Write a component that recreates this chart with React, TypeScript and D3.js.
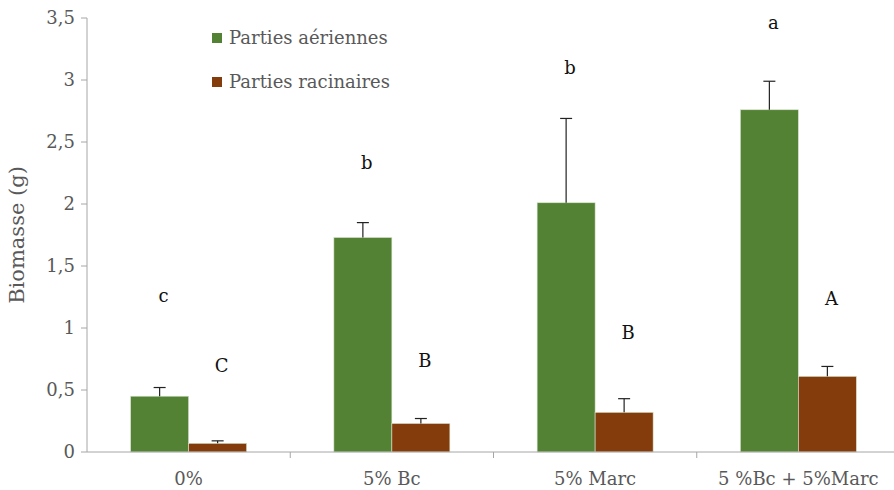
import React, { useEffect, useRef } from "react";
import * as d3 from "d3";

const categories = ["0%", "5% Bc", "5% Marc", "5 %Bc + 5%Marc"];
const seriesNames = ["Parties aériennes", "Parties racinaires"];
const aerial = [0.45, 1.73, 2.01, 2.76];
const aerialErr = [0.07, 0.12, 0.68, 0.23];
const roots = [0.07, 0.23, 0.32, 0.61];
const rootsErr = [0.02, 0.04, 0.11, 0.08];
const aerialLetters = ["c", "b", "b", "a"];
const aerialLetterY = [1.26, 2.33, 3.1, 3.46];
const rootLetters = ["C", "B", "B", "A"];
const rootLetterY = [0.7, 0.74, 0.96, 1.24];
const yTicks = [0, 0.5, 1, 1.5, 2, 2.5, 3, 3.5];

const colors = ["#548235", "#843c0c"];

export default function App() {
  const ref = useRef<SVGSVGElement | null>(null);

  useEffect(() => {
    const width = 894;
    const height = 490;
    const margin = { top: 18, right: -6, bottom: 38, left: 87 };

    const svg = d3.select(ref.current);
    svg.selectAll("*").remove();

    const x = d3
      .scaleBand<string>()
      .domain(categories)
      .range([margin.left, width - margin.right]);
    const inner = d3.scaleBand<number>().domain([0, 1]).range([0, 116]);
    const y = d3
      .scaleLinear()
      .domain([0, 3.5])
      .range([height - margin.bottom, margin.top]);

    const fontFam = "'DejaVu Serif', serif";
    const grey = "#595959";

    // y axis
    const yAxis = svg.append("g");
    yAxis
      .append("line")
      .attr("x1", margin.left)
      .attr("x2", margin.left)
      .attr("y1", y(3.5))
      .attr("y2", y(0))
      .attr("stroke", "#a6a6a6");
    yTicks.forEach((t) => {
      yAxis
        .append("line")
        .attr("x1", margin.left - 6)
        .attr("x2", margin.left)
        .attr("y1", y(t))
        .attr("y2", y(t))
        .attr("stroke", "#a6a6a6");
      yAxis
        .append("text")
        .attr("x", margin.left - 12)
        .attr("y", y(t))
        .attr("dy", "0.35em")
        .attr("text-anchor", "end")
        .attr("font-family", fontFam)
        .attr("font-size", 18)
        .attr("fill", grey)
        .text(String(t).replace(".", ","));
    });

    svg
      .append("text")
      .attr("transform", `translate(24, ${(y(0) + y(3.5)) / 2}) rotate(-90)`)
      .attr("text-anchor", "middle")
      .attr("font-family", fontFam)
      .attr("font-size", 21)
      .attr("fill", grey)
      .text("Biomasse (g)");

    // bars
    const series = [
      { vals: aerial, err: aerialErr },
      { vals: roots, err: rootsErr },
    ];
    const offset = (x.bandwidth() - 116) / 2;
    series.forEach((s, si) => {
      const g = svg.append("g");
      categories.forEach((c, i) => {
        const bx = (x(c) as number) + offset + (inner(si) as number);
        const bw = inner.bandwidth();
        g.append("rect")
          .attr("x", bx)
          .attr("y", y(s.vals[i]))
          .attr("width", bw)
          .attr("height", y(0) - y(s.vals[i]))
          .attr("fill", colors[si])
          .attr("stroke", "#d9e4d0")
          .attr("stroke-width", 0.6);
        const cx = bx + bw / 2;
        g.append("line")
          .attr("x1", cx)
          .attr("x2", cx)
          .attr("y1", y(s.vals[i]))
          .attr("y2", y(s.vals[i] + s.err[i]))
          .attr("stroke", "#222")
          .attr("stroke-width", 1.2);
        g.append("line")
          .attr("x1", cx - 6)
          .attr("x2", cx + 6)
          .attr("y1", y(s.vals[i] + s.err[i]))
          .attr("y2", y(s.vals[i] + s.err[i]))
          .attr("stroke", "#222")
          .attr("stroke-width", 1.2);
        const letters = si === 0 ? aerialLetters : rootLetters;
        const ly = si === 0 ? aerialLetterY : rootLetterY;
        g.append("text")
          .attr("x", cx + 4)
          .attr("y", y(ly[i]))
          .attr("dy", "0.35em")
          .attr("text-anchor", "middle")
          .attr("font-family", fontFam)
          .attr("font-size", 18)
          .attr("fill", "#111")
          .text(letters[i]);
      });
    });

    // x axis
    const xAxis = svg.append("g");
    xAxis
      .append("line")
      .attr("x1", margin.left)
      .attr("x2", width)
      .attr("y1", y(0))
      .attr("y2", y(0))
      .attr("stroke", "#a6a6a6");
    categories.forEach((c, i) => {
      if (i > 0) {
        xAxis
          .append("line")
          .attr("x1", x(c) as number)
          .attr("x2", x(c) as number)
          .attr("y1", y(0))
          .attr("y2", y(0) + 6)
          .attr("stroke", "#a6a6a6");
      }
      xAxis
        .append("text")
        .attr("x", (x(c) as number) + x.bandwidth() / 2)
        .attr("y", y(0) + 27)
        .attr("dy", "0.35em")
        .attr("text-anchor", "middle")
        .attr("font-family", fontFam)
        .attr("font-size", 18)
        .attr("fill", grey)
        .text(c);
    });

    // legend
    const legend = svg.append("g");
    seriesNames.forEach((n, i) => {
      const ly = 38 + i * 44;
      legend
        .append("rect")
        .attr("x", 212)
        .attr("y", ly - 5)
        .attr("width", 10)
        .attr("height", 10)
        .attr("fill", colors[i]);
      legend
        .append("text")
        .attr("x", 229)
        .attr("y", ly)
        .attr("dy", "0.35em")
        .attr("font-family", fontFam)
        .attr("font-size", 18)
        .attr("fill", grey)
        .text(n);
    });
  }, []);

  return (
    <svg
      ref={ref}
      width={894}
      height={490}
      style={{ position: "absolute", left: 0, top: 0, background: "#fff" }}
    ></svg>
  );
}
